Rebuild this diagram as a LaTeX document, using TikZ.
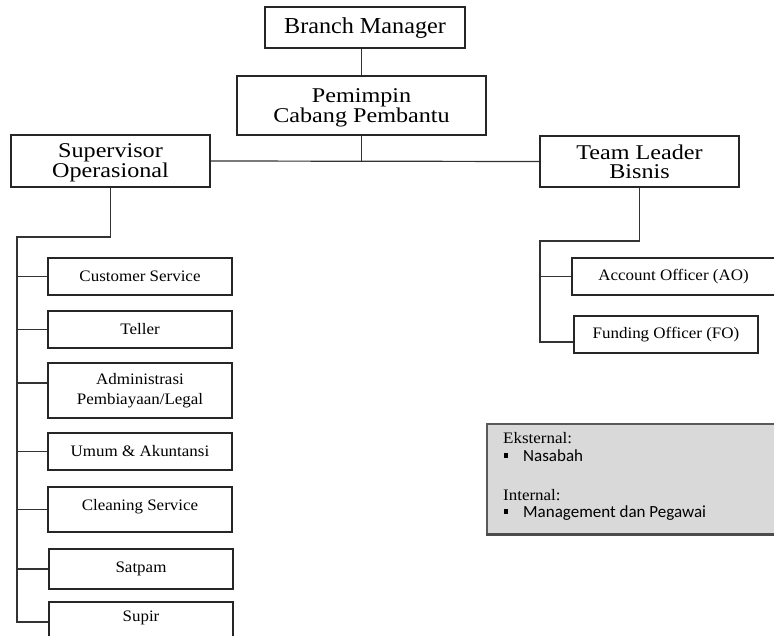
\documentclass[tikz,border=0pt]{standalone}
\usepackage{fontspec}
\setmainfont{Liberation Serif}
\newfontfamily\headfont{Liberation Serif}[FakeStretch=1.15]
\newfontfamily\stafffont{Liberation Serif}[FakeStretch=1.06]
\newfontfamily\notefont{Carlito}

\begin{document}
\begin{tikzpicture}[x=1pt, y=-1pt,
    unit/.style={draw=black!85, line width=1.2pt, inner sep=0pt, align=center,
      minimum width=199pt, minimum height=52pt, text depth=0pt,
      font=\headfont\fontsize{21}{19}\selectfont},
    staff/.style={draw=black!85, line width=1.2pt, inner sep=0pt, align=center,
      minimum width=184pt, minimum height=37pt,
      font=\stafffont\fontsize{16}{19.5}\selectfont},
    link/.style={draw=black!80, line width=1.2pt},
    note/.style={anchor=base west, inner sep=0pt}]
  \useasboundingbox (0,0) rectangle (774,636);
  \clip (0,0) rectangle (774,636);

  \node[unit, minimum width=200pt, minimum height=41pt, text depth=4pt,
    font=\stafffont\fontsize{22.8}{24}\selectfont] (bm) at (365,27.5) {Branch Manager};
  \node[unit, minimum width=249pt, minimum height=59pt] (pcp) at (361.5,105.5) {Pemimpin\\Cabang Pembantu};
  \node[unit] (so) at (110.5,161) {Supervisor\\Operasional};
  \node[unit, minimum height=51pt] (tl) at (639.5,161.5) {Team Leader\\Bisnis};

  \node[staff] (cs) at (140,276.5) {Customer Service};
  \node[staff] (tel) at (140,329.5) {Teller};
  \node[staff, minimum height=55pt] (adm) at (140,390.5) {Administrasi\\Pembiayaan/Legal};
  \node[staff] (umum) at (140,451.5) {Umum \& Akuntansi};
  \node[staff, minimum height=45pt, text depth=10pt] (clean) at (140,509.5) {Cleaning Service};
  \node[staff, minimum height=40pt] (satpam) at (141,569) {Satpam};
  \node[staff, minimum height=40pt, text depth=11pt] (supir) at (141,622) {Supir};

  \node[staff, minimum width=203pt] (ao) at (673.5,276.5) {Account Officer (AO)};
  \node[staff] (fo) at (666,334.5) {Funding Officer (FO)};

  \coordinate (opsbus) at (17,237);
  \coordinate (opsend) at (17,623);
  \coordinate (admtap) at ([yshift=7.5pt]adm.west);
  \coordinate (bisbus) at (540,241);
  \coordinate (bisend) at (540,342);

  \draw[link] (pcp.north |- bm.south) -- (pcp.north);
  \draw[link] (pcp.south) -- (pcp.south |- so.east);
  \draw[link] (so.east) -- (tl.west);
  \draw[link] (so.south) |- (opsbus) -- (opsend);
  \foreach \n in {cs,tel,admtap,umum,clean,satpam,supir}
    \draw[link] (opsbus |- \n.west) -- (\n.west);
  \draw[link] (tl.south) |- (bisbus) -- (bisend) -- (bisend -| fo.west);
  \draw[link] (bisbus |- ao.west) -- (ao.west);

  \node[draw=black!65, line width=1.5pt, fill=black!15, inner sep=0pt, anchor=north west,
    minimum width=300pt, minimum height=110pt] (stake) at (486,423) {};
  \draw[black!70, line width=3pt] (stake.south west) -- (stake.south east);
  \node[note, font=\stafffont\fontsize{16}{19}\selectfont] (ext) at (503,443) {Eksternal:};
  \node[note, font=\notefont\fontsize{17}{20}\selectfont] (nsb) at (503.5,461)
    {\rule[3.5pt]{4.5pt}{4.5pt}\hspace{15pt}Nasabah};
  \node[note, font=\stafffont\fontsize{16}{19}\selectfont] (int) at (503,500) {Internal:};
  \node[note, font=\notefont\fontsize{17}{20}\selectfont] (mgp) at (503.5,517)
    {\rule[3.5pt]{4.5pt}{4.5pt}\hspace{15pt}Management dan Pegawai};
\end{tikzpicture}
\end{document}
